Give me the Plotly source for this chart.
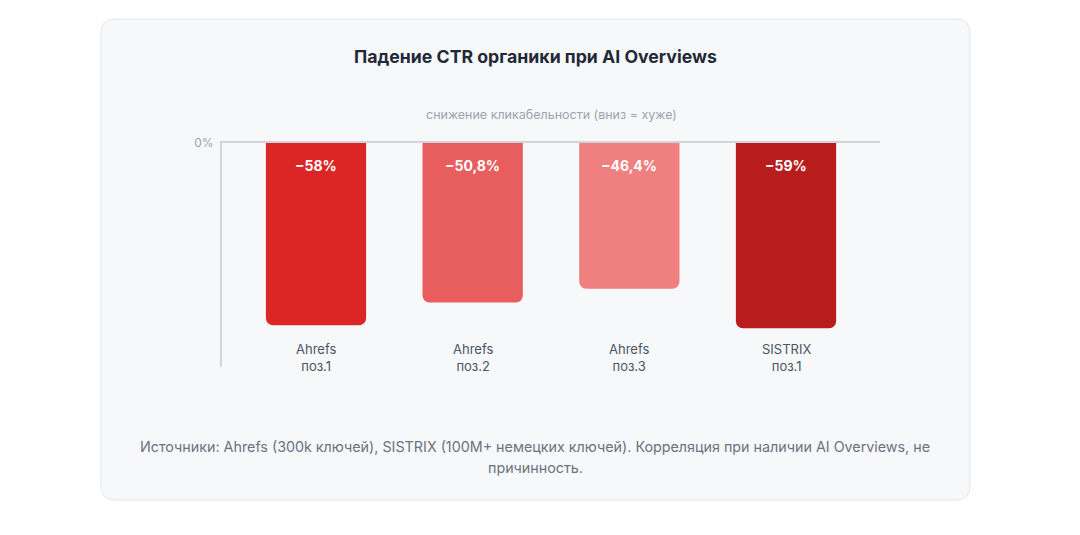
import plotly.graph_objects as go

# ---- data ----
sources = ["Ahrefs", "Ahrefs", "Ahrefs", "SISTRIX"]
positions = ["поз.1", "поз.2", "поз.3", "поз.1"]
ctr_drop = [-58, -50.8, -46.4, -59]
value_labels = ["−58%", "−50,8%", "−46,4%", "−59%"]
bar_colors = ["#dc2626", "#e85d5d", "#f08080", "#b91c1c"]

title_text = "Падение CTR органики при AI Overviews"
subtitle_text = "снижение кликабельности (вниз = хуже)"
footer_line1 = "Источники: Ahrefs (300k ключей), SISTRIX (100M+ немецких ключей). Корреляция при наличии AI Overviews, не"
footer_line2 = "причинность."

W, H = 1080, 535
FONT = "Inter, Liberation Sans, Arial, sans-serif"

def px(x):
    return x / W

def py(y):
    return 1 - y / H

xs = list(range(len(ctr_drop)))

fig = go.Figure()
fig.add_trace(go.Bar(
    x=xs,
    y=ctr_drop,
    width=0.64,
    marker=dict(color=bar_colors, line=dict(width=0), cornerradius=7),
    hoverinfo="skip",
))

# card background (rounded rectangle)
x0, x1, y0, y1 = 101, 970, 19, 500
r = 14
path = (
    f"M {px(x0 + r)},{py(y0)} L {px(x1 - r)},{py(y0)} "
    f"Q {px(x1)},{py(y0)} {px(x1)},{py(y0 + r)} "
    f"L {px(x1)},{py(y1 - r)} Q {px(x1)},{py(y1)} {px(x1 - r)},{py(y1)} "
    f"L {px(x0 + r)},{py(y1)} Q {px(x0)},{py(y1)} {px(x0)},{py(y1 - r)} "
    f"L {px(x0)},{py(y0 + r)} Q {px(x0)},{py(y0)} {px(x0 + r)},{py(y0)} Z"
)
fig.add_shape(type="path", path=path, xref="paper", yref="paper",
              fillcolor="#f7f8fa", line=dict(color="#e3e6ea", width=1), layer="below")

annotations = []
annotations.append(dict(text=f"<b>{title_text}</b>", x=px(535), y=py(57), xref="paper", yref="paper",
                        showarrow=False, xanchor="center", yanchor="middle",
                        font=dict(size=17.7, color="#1f2937", family=FONT)))
annotations.append(dict(text=subtitle_text, x=px(551), y=py(114), xref="paper", yref="paper",
                        showarrow=False, xanchor="center", yanchor="middle",
                        font=dict(size=12.5, color="#9ca3af", family=FONT)))
annotations.append(dict(text=footer_line1, x=px(535), y=py(446), xref="paper", yref="paper",
                        showarrow=False, xanchor="center", yanchor="middle",
                        font=dict(size=14.3, color="#6b7280", family=FONT)))
annotations.append(dict(text=footer_line2, x=px(535), y=py(467), xref="paper", yref="paper",
                        showarrow=False, xanchor="center", yanchor="middle",
                        font=dict(size=14.3, color="#6b7280", family=FONT)))

for i, (v, lab) in enumerate(zip(ctr_drop, value_labels)):
    annotations.append(dict(text=f"<b>{lab}</b>", x=i, y=0, xref="x", yref="y",
                            showarrow=False, xanchor="center", yanchor="middle", yshift=-22,
                            font=dict(size=14, color="#ffffff", family=FONT)))
    annotations.append(dict(text=f"{sources[i]}<br>{positions[i]}", x=i, y=py(357),
                            xref="x", yref="paper", showarrow=False,
                            xanchor="center", yanchor="middle",
                            font=dict(size=13, color="#4b5563", family=FONT)))

fig.update_layout(
    template=None,
    width=W, height=H,
    margin=dict(l=0, r=0, t=0, b=0, autoexpand=False),
    paper_bgcolor="#ffffff",
    plot_bgcolor="rgba(0,0,0,0)",
    showlegend=False,
    annotations=annotations,
    font=dict(family=FONT),
    xaxis=dict(domain=[px(222), px(880)], range=[-0.6, 3.6], showticklabels=False,
               showgrid=False, zeroline=False, showline=True, side="top", automargin=False,
               linecolor="#d1d5db", linewidth=2, ticks=""),
    yaxis=dict(domain=[py(367), py(143)], range=[-71.3, 0], showgrid=False, automargin=False,
               zeroline=False, showline=True, linecolor="#d1d5db", linewidth=2,
               tickvals=[0], ticktext=["0%"], ticks="", ticklabelstandoff=4,
               tickfont=dict(size=12, color="#9ca3af", family=FONT)),
)

fig.write_html("out.html")
